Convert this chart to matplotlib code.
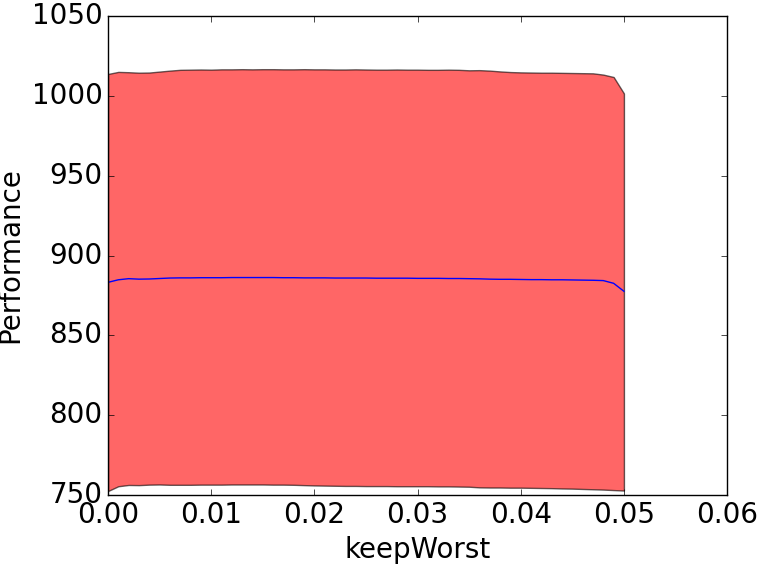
import numpy as np
import matplotlib
matplotlib.use('Agg')
import matplotlib.pyplot as plt

# keepWorst settings and performance stats
keep_worst = [i / 1000.0 for i in range(51)]

perf_mean = [883.2, 884.8, 885.5, 885.2, 885.3, 885.6, 885.9, 886.0, 886.0, 886.1,
             886.1, 886.1, 886.2, 886.2, 886.2, 886.2, 886.2, 886.1, 886.1, 886.0,
             886.0, 886.0, 885.9, 885.9, 885.9, 885.9, 885.8, 885.8, 885.8, 885.8,
             885.7, 885.7, 885.7, 885.6, 885.6, 885.5, 885.4, 885.2, 885.1, 885.1,
             885.0, 884.9, 884.9, 884.8, 884.8, 884.7, 884.6, 884.5, 884.3, 882.6,
             877.6]

perf_hi = [1013.7, 1015.0, 1014.8, 1014.5, 1014.6, 1015.2, 1015.8, 1016.3, 1016.4, 1016.5,
           1016.4, 1016.6, 1016.6, 1016.7, 1016.6, 1016.7, 1016.7, 1016.6, 1016.6, 1016.7,
           1016.6, 1016.6, 1016.5, 1016.5, 1016.6, 1016.5, 1016.4, 1016.4, 1016.5, 1016.4,
           1016.4, 1016.3, 1016.3, 1016.4, 1016.3, 1016.0, 1016.1, 1015.8, 1015.3, 1014.9,
           1014.7, 1014.6, 1014.5, 1014.5, 1014.4, 1014.3, 1014.2, 1014.1, 1013.3, 1011.8,
           1001.5]

perf_lo = [752.5, 755.5, 756.3, 756.2, 756.5, 756.6, 756.4, 756.4, 756.4, 756.5,
           756.5, 756.5, 756.6, 756.6, 756.6, 756.6, 756.5, 756.5, 756.4, 756.2,
           756.0, 755.9, 755.8, 755.7, 755.7, 755.6, 755.6, 755.6, 755.5, 755.5,
           755.5, 755.5, 755.4, 755.4, 755.3, 755.2, 754.8, 754.7, 754.7, 754.6,
           754.6, 754.5, 754.4, 754.3, 754.1, 754.0, 753.8, 753.6, 753.4, 753.1,
           752.8]

plt.style.use('classic')
fig = plt.figure(figsize=(7.59, 5.66), dpi=100)
ax = fig.add_axes([0.1423, 0.1254, 0.8157, 0.8463])

x = np.array(keep_worst)
ax.fill_between(x, perf_lo, perf_hi, facecolor='red', edgecolor='black', alpha=0.6)
ax.plot(x, perf_mean, color='blue')

ax.set_xlim(0, 0.06)
ax.set_ylim(750, 1050)
ax.set_xticks([0.0, 0.01, 0.02, 0.03, 0.04, 0.05, 0.06])
ax.set_yticks([750, 800, 850, 900, 950, 1000, 1050])
ax.tick_params(labelsize=20)
ax.set_xlabel('keepWorst', fontsize=20)
ax.set_ylabel('Performance', fontsize=20)

fig.savefig('out.png', dpi=100)
